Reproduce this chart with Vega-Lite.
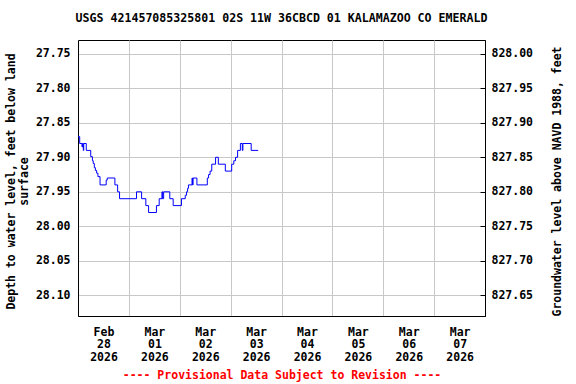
{
  "$schema": "https://vega.github.io/schema/vega-lite/v6.json",
  "autosize": "none",
  "padding": {"left": 78, "top": 40, "right": 91, "bottom": 68},
  "width": 407,
  "height": 276,
  "title": {
    "text": "USGS 421457085325801 02S 11W 36CBCD 01 KALAMAZOO CO EMERALD",
    "font": "DejaVu Sans Mono",
    "fontSize": 11.6,
    "fontWeight": "bold",
    "color": "black",
    "anchor": "middle",
    "offset": 15
  },
  "config": {
    "font": "DejaVu Sans Mono",
    "view": {"stroke": "black", "strokeWidth": 1},
    "axis": {
      "labelFont": "DejaVu Sans Mono",
      "labelFontSize": 11.5,
      "labelFontWeight": "bold",
      "labelColor": "black",
      "titleFont": "DejaVu Sans Mono",
      "titleFontSize": 11.5,
      "titleFontWeight": "bold",
      "titleColor": "black",
      "gridColor": "#c8c8c8",
      "gridWidth": 1,
      "domainColor": "black",
      "tickColor": "black"
    }
  },
  "layer": [
    {
      "data": {
        "values": [
          {"t": "2026-02-28T00:00", "depth": 27.87},
          {"t": "2026-02-28T00:48", "depth": 27.88},
          {"t": "2026-02-28T01:54", "depth": 27.885},
          {"t": "2026-02-28T02:06", "depth": 27.88},
          {"t": "2026-02-28T02:30", "depth": 27.89},
          {"t": "2026-02-28T02:42", "depth": 27.88},
          {"t": "2026-02-28T03:54", "depth": 27.89},
          {"t": "2026-02-28T06:00", "depth": 27.899},
          {"t": "2026-02-28T06:48", "depth": 27.905},
          {"t": "2026-02-28T07:12", "depth": 27.909},
          {"t": "2026-02-28T07:42", "depth": 27.915},
          {"t": "2026-02-28T08:12", "depth": 27.919},
          {"t": "2026-02-28T08:48", "depth": 27.923},
          {"t": "2026-02-28T09:24", "depth": 27.928},
          {"t": "2026-02-28T10:24", "depth": 27.94},
          {"t": "2026-02-28T13:18", "depth": 27.933},
          {"t": "2026-02-28T13:48", "depth": 27.93},
          {"t": "2026-02-28T17:24", "depth": 27.94},
          {"t": "2026-02-28T18:42", "depth": 27.95},
          {"t": "2026-02-28T19:36", "depth": 27.96},
          {"t": "2026-03-01T03:36", "depth": 27.95},
          {"t": "2026-03-01T06:00", "depth": 27.96},
          {"t": "2026-03-01T08:00", "depth": 27.97},
          {"t": "2026-03-01T09:18", "depth": 27.98},
          {"t": "2026-03-01T13:00", "depth": 27.97},
          {"t": "2026-03-01T14:18", "depth": 27.96},
          {"t": "2026-03-01T15:36", "depth": 27.95},
          {"t": "2026-03-01T15:54", "depth": 27.96},
          {"t": "2026-03-01T16:24", "depth": 27.95},
          {"t": "2026-03-01T19:18", "depth": 27.96},
          {"t": "2026-03-01T20:54", "depth": 27.97},
          {"t": "2026-03-02T00:48", "depth": 27.96},
          {"t": "2026-03-02T02:36", "depth": 27.955},
          {"t": "2026-03-02T03:12", "depth": 27.95},
          {"t": "2026-03-02T03:42", "depth": 27.945},
          {"t": "2026-03-02T04:06", "depth": 27.94},
          {"t": "2026-03-02T05:48", "depth": 27.93},
          {"t": "2026-03-02T06:00", "depth": 27.94},
          {"t": "2026-03-02T06:18", "depth": 27.93},
          {"t": "2026-03-02T08:06", "depth": 27.94},
          {"t": "2026-03-02T13:00", "depth": 27.93},
          {"t": "2026-03-02T13:36", "depth": 27.925},
          {"t": "2026-03-02T14:18", "depth": 27.92},
          {"t": "2026-03-02T15:06", "depth": 27.91},
          {"t": "2026-03-02T16:54", "depth": 27.90},
          {"t": "2026-03-02T18:12", "depth": 27.91},
          {"t": "2026-03-02T21:30", "depth": 27.92},
          {"t": "2026-03-03T00:30", "depth": 27.91},
          {"t": "2026-03-03T01:30", "depth": 27.905},
          {"t": "2026-03-03T02:18", "depth": 27.90},
          {"t": "2026-03-03T03:18", "depth": 27.89},
          {"t": "2026-03-03T04:36", "depth": 27.88},
          {"t": "2026-03-03T05:30", "depth": 27.89},
          {"t": "2026-03-03T05:48", "depth": 27.88},
          {"t": "2026-03-03T09:42", "depth": 27.89},
          {"t": "2026-03-03T13:00", "depth": 27.89}
        ]
      },
      "mark": {"type": "line", "color": "#0000ff", "strokeWidth": 1, "interpolate": "step-after"},
      "encoding": {
        "x": {
          "field": "t",
          "type": "temporal",
          "scale": {"domain": [{"year": 2026, "month": "Feb", "date": 28}, {"year": 2026, "month": "Mar", "date": 8}]},
          "axis": {
            "values": [
              {"year": 2026, "month": "Feb", "date": 28},
              {"year": 2026, "month": "Mar", "date": 1},
              {"year": 2026, "month": "Mar", "date": 2},
              {"year": 2026, "month": "Mar", "date": 3},
              {"year": 2026, "month": "Mar", "date": 4},
              {"year": 2026, "month": "Mar", "date": 5},
              {"year": 2026, "month": "Mar", "date": 6},
              {"year": 2026, "month": "Mar", "date": 7}
            ],
            "labelExpr": "[timeFormat(datum.value, '%b'), timeFormat(datum.value, '%d'), timeFormat(datum.value, '%Y')]",
            "labelOffset": 25.5,
            "labelAlign": "center",
            "labelBaseline": "top",
            "labelPadding": 10,
            "labelLineHeight": 12.7,
            "labelOverlap": false,
            "labelFlush": false,
            "labelBound": false,
            "ticks": false,
            "grid": true,
            "title": "---- Provisional Data Subject to Revision ----",
            "titleColor": "red",
            "titlePadding": 7
          }
        },
        "y": {
          "field": "depth",
          "type": "quantitative",
          "scale": {"domain": [27.73, 28.13], "reverse": true, "zero": false, "nice": false},
          "axis": {
            "values": [27.75, 27.8, 27.85, 27.9, 27.95, 28.0, 28.05, 28.1],
            "format": ".2f",
            "ticks": false,
            "labelPadding": 8,
            "grid": true,
            "title": ["Depth to water level, feet below land", "surface"],
            "titleAngle": -90,
            "titleX": -67,
            "titleY": 141,
            "titleLineHeight": 13,
            "titleAlign": "center",
            "titleBaseline": "middle"
          }
        }
      }
    },
    {
      "data": {"values": [{"elev": 827.65}, {"elev": 828.0}]},
      "mark": {"type": "rule", "opacity": 0},
      "encoding": {
        "y": {
          "field": "elev",
          "type": "quantitative",
          "scale": {"domain": [827.62, 828.02], "zero": false, "nice": false},
          "axis": {
            "orient": "right",
            "values": [827.65, 827.7, 827.75, 827.8, 827.85, 827.9, 827.95, 828.0],
            "format": ".2f",
            "grid": false,
            "ticks": true,
            "tickSize": -5,
            "labelPadding": 11,
            "title": "Groundwater level above NAVD 1988, feet",
            "titleAngle": -90,
            "titleX": 72,
            "titleY": 141,
            "titleAlign": "center",
            "titleBaseline": "middle"
          }
        }
      }
    }
  ],
  "resolve": {"scale": {"y": "independent"}, "axis": {"y": "independent"}}
}
